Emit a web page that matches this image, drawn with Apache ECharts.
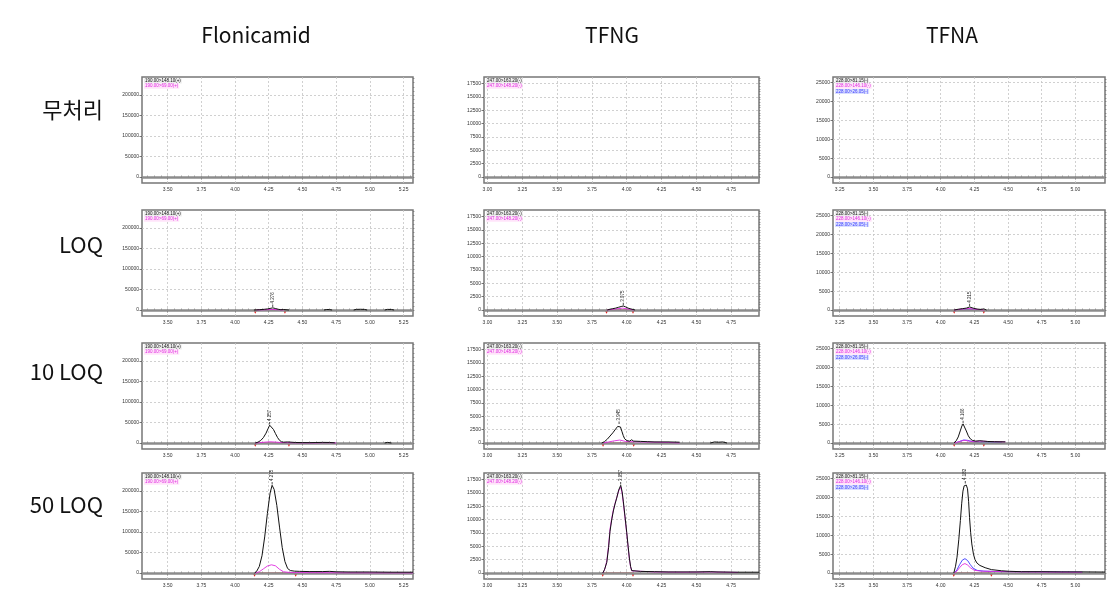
<!DOCTYPE html>
<html><head><meta charset="utf-8">
<script src="https://cdn.jsdelivr.net/npm/echarts@6/dist/echarts.min.js"></script>
<style>html,body{margin:0;padding:0;background:#fff}#c{width:1117px;height:602px}</style>
</head><body><div id="c"></div>
<script>
// ---------- data ----------
const compounds = ['Flonicamid', 'TFNG', 'TFNA'];
const levels = ['무처리', 'LOQ', '10 LOQ', '50 LOQ'];
const xRanges = [[3.31, 5.32], [2.975, 4.95], [3.20, 5.22]];
const yMaxes = [244000, 18700, 26500];
const xTickLabels = [
  [3.50, 3.75, 4.00, 4.25, 4.50, 4.75, 5.00, 5.25],
  [3.00, 3.25, 3.50, 3.75, 4.00, 4.25, 4.50, 4.75],
  [3.25, 3.50, 3.75, 4.00, 4.25, 4.50, 4.75, 5.00]
];
const yTickLabels = [
  [0, 50000, 100000, 150000, 200000],
  [0, 2500, 5000, 7500, 10000, 12500, 15000, 17500],
  [0, 5000, 10000, 15000, 20000, 25000]
];
const transitions = [
  ['190.00>148.10(+)', '190.00>69.00(+)'],
  ['247.00>163.20(-)', '247.00>148.20(-)'],
  ['228.00>81.15(-)', '228.00>146.10(-)', '228.00>26.05(-)']
];
const peakLabels = [
  [null, '4.276', '4.257', '4.275'],
  [null, '3.975', '3.945', '3.957'],
  [null, '4.215', '4.166', '4.182']
];
const integration = [
  [null, [4.15, 4.37], [4.15, 4.40], [4.145, 4.45]],
  [null, [3.855, 4.045], [3.83, 4.05], [3.828, 4.045]],
  [null, [4.10, 4.32], [4.10, 4.32], [4.097, 4.376]]
];

// Flonicamid
const flonLOQ_q = [[4.14,0],[4.16,300],[4.18,700],[4.20,1200],[4.22,1800],[4.24,2600],[4.26,3800],[4.28,5200],[4.30,3600],[4.32,1800],[4.34,700],[4.36,1200],[4.37,300],[4.40,0],[4.41,null],[4.66,0],[4.68,1200],[4.70,1000],[4.72,0],[4.73,null],[4.88,0],[4.90,1500],[4.93,1800],[4.96,1400],[4.98,0],[4.99,null],[5.11,0],[5.13,1500],[5.16,1300],[5.18,0]];
const flonLOQ_c = [[4.16,0],[4.20,500],[4.24,900],[4.28,1300],[4.32,700],[4.36,0]];
const flon10_q = [[4.15,0],[4.17,2000],[4.19,6000],[4.21,13000],[4.23,24000],[4.245,35000],[4.257,43500],[4.27,41000],[4.285,33000],[4.30,23000],[4.315,13500],[4.33,6500],[4.345,3000],[4.36,2000],[4.39,2600],[4.40,1500],[4.45,1200],[4.50,1000],[4.55,900],[4.60,1200],[4.65,1500],[4.70,1300],[4.74,500],[4.76,null],[5.11,0],[5.13,1500],[5.16,0]];
const flon10_c = [[4.15,0],[4.18,800],[4.22,2000],[4.26,3000],[4.30,2200],[4.34,1200],[4.40,800],[4.45,500],[4.50,400],[4.60,300],[4.65,800],[4.72,700],[4.75,0]];
const flon50_q = [[4.145,0],[4.16,4000],[4.18,16000],[4.20,42000],[4.22,88000],[4.24,145000],[4.26,195000],[4.275,214000],[4.29,204000],[4.31,165000],[4.33,112000],[4.35,62000],[4.37,28000],[4.39,11000],[4.41,6000],[4.44,4500],[4.48,4000],[4.55,3500],[4.65,3500],[4.70,4000],[4.75,3000],[4.85,2500],[5.00,2500],[5.15,2000],[5.32,2000]];
const flon50_c = [[4.15,0],[4.18,3000],[4.21,10000],[4.24,17000],[4.27,20000],[4.30,17500],[4.33,9000],[4.36,3000],[4.40,1500],[4.45,1000],[4.60,800],[4.80,500],[5.32,300]];

// TFNG
const tfngLOQ_q = [[3.86,0],[3.88,150],[3.90,250],[3.92,350],[3.94,500],[3.96,650],[3.975,750],[3.99,600],[4.01,350],[4.03,200],[4.04,300],[4.06,0]];
const tfngLOQ_c = [[3.86,0],[3.92,200],[3.97,350],[4.02,150],[4.05,0]];
const tfng10_q = [[3.82,0],[3.84,250],[3.86,700],[3.88,1300],[3.90,1900],[3.92,2600],[3.935,3100],[3.945,3400],[3.955,3000],[3.965,2200],[3.975,1400],[3.985,800],[4.00,450],[4.02,350],[4.035,600],[4.05,350],[4.10,300],[4.15,250],[4.20,200],[4.30,200],[4.38,150],[4.40,null],[4.60,0],[4.63,200],[4.66,150],[4.69,200],[4.72,0]];
const tfng10_c = [[3.83,0],[3.87,200],[3.91,400],[3.95,550],[3.99,300],[4.03,250],[4.10,200],[4.20,150],[4.30,100],[4.38,0]];
const tfng50_q = [[3.828,0],[3.84,600],[3.857,2000],[3.87,4800],[3.88,7800],[3.892,9900],[3.904,11600],[3.916,12900],[3.928,14000],[3.942,15500],[3.957,16400],[3.967,15200],[3.976,13300],[3.988,10500],[4.00,7600],[4.01,5000],[4.019,2800],[4.028,1200],[4.036,450],[4.05,350],[4.10,300],[4.20,250],[4.30,200],[4.40,200],[4.50,200],[4.60,250],[4.65,200],[4.80,150],[4.95,150]];
const tfng50_c = [[3.83,0],[3.845,900],[3.857,2300],[3.87,5200],[3.88,8200],[3.892,10200],[3.904,11800],[3.916,13000],[3.928,14100],[3.942,15300],[3.957,16100],[3.967,14900],[3.976,13000],[3.988,10200],[4.00,7400],[4.01,4800],[4.019,2600],[4.028,1100],[4.036,400],[4.05,300],[4.20,200],[4.40,150],[4.60,200],[4.80,100]];

// TFNA
const tfnaLOQ_q = [[4.10,0],[4.13,200],[4.16,350],[4.19,500],[4.215,800],[4.24,500],[4.27,250],[4.30,150],[4.32,300],[4.34,0]];
const tfnaLOQ_c = [[4.10,0],[4.16,250],[4.21,400],[4.26,200],[4.32,0]];
const tfnaLOQ_b = [[4.12,0],[4.18,150],[4.22,250],[4.28,0]];
const tfna10_q = [[4.10,0],[4.115,600],[4.13,1600],[4.145,3200],[4.157,4500],[4.166,5050],[4.176,4600],[4.19,3200],[4.205,1900],[4.22,1100],[4.235,700],[4.26,500],[4.29,600],[4.32,500],[4.35,400],[4.40,350],[4.48,300]];
const tfna10_c = [[4.10,0],[4.13,300],[4.16,600],[4.18,700],[4.21,500],[4.25,400],[4.30,500],[4.35,400],[4.48,300]];
const tfna10_b = [[4.11,0],[4.14,400],[4.17,800],[4.20,700],[4.24,300],[4.30,200],[4.45,100]];
const tfna50_q = [[4.097,0],[4.11,1800],[4.121,4200],[4.134,8800],[4.146,13900],[4.156,18500],[4.165,21700],[4.174,23100],[4.182,23500],[4.19,23300],[4.199,22300],[4.207,19000],[4.214,14700],[4.222,10800],[4.231,7700],[4.243,5000],[4.255,3500],[4.27,2600],[4.291,2000],[4.33,1400],[4.376,900],[4.45,600],[4.51,450],[4.60,350],[4.75,350],[4.90,300],[5.05,300],[5.22,250]];
const tfna50_c = [[4.10,0],[4.12,500],[4.14,1400],[4.16,2200],[4.18,2500],[4.20,2100],[4.22,1400],[4.25,700],[4.30,500],[4.40,400],[4.60,300],[5.05,200]];
const tfna50_b = [[4.10,0],[4.12,800],[4.14,2200],[4.16,3400],[4.18,3800],[4.20,3300],[4.22,2200],[4.24,1300],[4.27,700],[4.32,500],[4.40,400],[4.60,300],[5.05,200]];

const traces = [
  [[], [flonLOQ_q, flonLOQ_c], [flon10_q, flon10_c], [flon50_q, flon50_c]],
  [[], [tfngLOQ_q, tfngLOQ_c], [tfng10_q, tfng10_c], [tfng50_q, tfng50_c]],
  [[], [tfnaLOQ_q, tfnaLOQ_c, tfnaLOQ_b], [tfna10_q, tfna10_c, tfna10_b], [tfna50_q, tfna50_c, tfna50_b]]
];

// ---------- layout / style ----------
const gridLeft = [142, 484, 833];
const gridWidth = [271, 275, 272];
const gridTop = [77, 210, 343, 473];
const gridH = 106;
const traceColors = ['#111111', '#e02ae0', '#3a3aff'];
const traceZ = [6, 5, 4];
const legendBg = ['rgba(235,235,235,0.9)', 'rgba(255,225,250,0.9)', 'rgba(215,220,255,0.95)'];
const colTitleX = [256, 612, 952];
const rowLabelY = [110, 245, 372, 505];

const grids = [], xAxes = [], yAxes = [], series = [], graphics = [];

compounds.forEach((cmp, c) => {
  graphics.push({type: 'text', x: colTitleX[c], y: 35, style: {text: cmp, fontSize: 21, fontFamily: '"Noto Sans CJK KR"', fill: '#111', align: 'center', verticalAlign: 'middle'}});
});
levels.forEach((lv, r) => {
  graphics.push({type: 'text', x: 103, y: rowLabelY[r], style: {text: lv, fontSize: 22, fontFamily: '"Noto Sans CJK KR"', fill: '#111', align: 'right', verticalAlign: 'middle'}});
});

compounds.forEach((cmp, c) => {
  const [xmin, xmax] = xRanges[c];
  const ymax = yMaxes[c];
  const ymin = -ymax * 0.06;
  const majX = xTickLabels[c];
  const minorX = [];
  for (let v = majX[0] - 0.25; v <= xmax + 1e-9; v += 0.05) {
    if (v >= xmin) minorX.push(+v.toFixed(3));
  }
  const majY = yTickLabels[c];
  const stepY = majY[1] - majY[0];
  const minorY = [];
  for (let v = 0; v <= ymax; v += stepY / 5) minorY.push(v);

  levels.forEach((lv, r) => {
    const gi = grids.length;
    grids.push({left: gridLeft[c], top: gridTop[r], width: gridWidth[c], height: gridH,
      show: true, borderColor: '#777', borderWidth: 1.5, backgroundColor: '#fff'});
    const xi = xAxes.length;
    xAxes.push({gridIndex: gi, type: 'value', min: xmin, max: xmax,
      axisLine: {show: false},
      axisTick: {show: true, customValues: majX, length: 2.5, lineStyle: {color: '#555', width: 0.8}},
      axisLabel: {customValues: majX, fontSize: 5, color: '#333', margin: 4, fontFamily: 'Liberation Sans', formatter: v => v.toFixed(2)},
      splitLine: {show: true, lineStyle: {color: '#c4c4c4', type: [2, 2], width: 0.8}}});
    xAxes.push({gridIndex: gi, type: 'value', min: xmin, max: xmax,
      axisLine: {show: false},
      axisTick: {show: true, customValues: minorX, length: 1.5, lineStyle: {color: '#666', width: 0.6}},
      axisLabel: {show: false}, splitLine: {show: false}});
    const yi = yAxes.length;
    yAxes.push({gridIndex: gi, type: 'value', min: ymin, max: ymax,
      axisLine: {show: false},
      axisTick: {show: true, customValues: majY, length: 2.5, lineStyle: {color: '#555', width: 0.8}},
      axisLabel: {customValues: majY, fontSize: 5, color: '#333', margin: 3, fontFamily: 'Liberation Sans', formatter: v => String(Math.round(v))},
      splitLine: {show: true, lineStyle: {color: '#c4c4c4', type: [2, 2], width: 0.8}}});
    yAxes.push({gridIndex: gi, type: 'value', min: ymin, max: ymax,
      axisLine: {show: false},
      axisTick: {show: true, customValues: minorY, length: 1.5, lineStyle: {color: '#666', width: 0.6}},
      axisLabel: {show: false}, splitLine: {show: false}});

    // zero baseline
    series.push({type: 'line', xAxisIndex: xi, yAxisIndex: yi, data: [], silent: true,
      markLine: {silent: true, symbol: 'none', label: {show: false},
        lineStyle: {color: '#8c8c8c', width: 2.6, type: 'solid'},
        data: [{yAxis: 0}]}, z: 1});

    const tr = traces[c][r];
    const integ = integration[c][r];
    if (integ) {
      series.push({type: 'line', xAxisIndex: xi, yAxisIndex: yi, silent: true,
        data: [[integ[0], 0], [integ[1], 0]],
        symbol: 'triangle', symbolSize: 3.5, symbolRotate: 180, symbolOffset: [0, 2],
        itemStyle: {color: '#e01818'}, lineStyle: {color: '#e01818', width: 1}, z: 3});
    }
    tr.forEach((d, k) => {
      const s = {type: 'line', xAxisIndex: xi, yAxisIndex: yi, data: d, showSymbol: false, silent: true,
        connectNulls: false, lineStyle: {color: traceColors[k], width: k === 0 ? 1 : 0.9},
        itemStyle: {color: traceColors[k]}, z: traceZ[k]};
      if (k === 0 && peakLabels[c][r]) {
        let best = d[0];
        d.forEach(p => { if (p[1] !== null && p[1] > best[1]) best = p; });
        s.markPoint = {silent: true, symbol: 'rect', symbolSize: [0.8, 2.5], symbolOffset: [0, -2],
          itemStyle: {color: '#222'},
          label: {show: true, formatter: peakLabels[c][r], rotate: 90, position: 'top', align: 'left',
            verticalAlign: 'middle', fontSize: 4.5, color: '#222', distance: 1, fontFamily: 'Liberation Sans'},
          data: [{coord: [best[0], best[1]]}]};
      }
      series.push(s);
    });

    transitions[c].forEach((t, k) => {
      graphics.push({type: 'text', x: gridLeft[c] + 2, y: gridTop[r] + 1.5 + k * 5.2, z: 100,
        style: {text: t, fontSize: 4.5, fontFamily: 'Liberation Sans', fill: traceColors[k],
          backgroundColor: legendBg[k], padding: [0, 1], align: 'left', verticalAlign: 'top'}});
    });
  });
});

const chart = echarts.init(document.getElementById('c'), null, {renderer: 'canvas'});
chart.setOption({
  animation: false,
  backgroundColor: '#fff',
  grid: grids, xAxis: xAxes, yAxis: yAxes, series: series, graphic: graphics
});
</script></body></html>
